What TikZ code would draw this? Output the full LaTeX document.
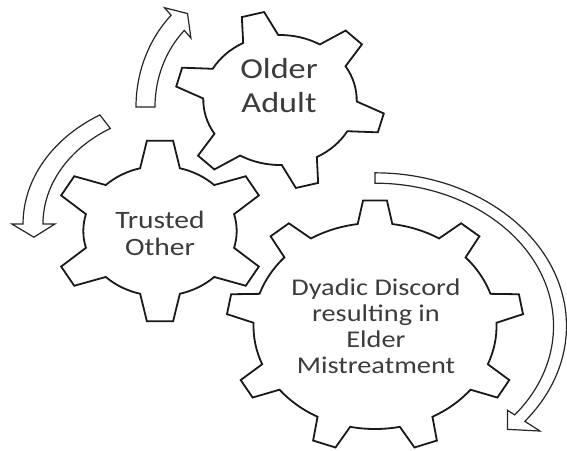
\documentclass[tikz,border=0pt]{standalone}
\usepackage{fontspec}
\setmainfont{Carlito}
\usepackage{graphicx}
\usetikzlibrary{calc}
\definecolor{txt}{HTML}{3C3C3C}
\newcommand{\gearsx}{1.18}
% cx cy R r N phi0 tiphalf basehalf
\newcommand{\drawgear}[8]{%
  \draw[gearline] ({#1+\gearsx*#4*cos(#6-#8)},{#2+#4*sin(#6-#8)})
  \foreach \k in {1,...,#5}{
    -- ({#1+\gearsx*#3*cos(#6+(\k-1)*360/#5-#7)},{#2+#3*sin(#6+(\k-1)*360/#5-#7)})
    -- ({#1+\gearsx*#3*cos(#6+(\k-1)*360/#5+#7)},{#2+#3*sin(#6+(\k-1)*360/#5+#7)})
    -- ({#1+\gearsx*#4*cos(#6+(\k-1)*360/#5+#8)},{#2+#4*sin(#6+(\k-1)*360/#5+#8)})
    arc[start angle={#6+(\k-1)*360/#5+#8}, end angle={#6+\k*360/#5-#8}, x radius={\gearsx*#4}, y radius={#4}]
  } -- cycle;
}
% cx cy a b w ho hi s e ; tip angle in \tipang
\newcommand{\curvedarrow}[9]{%
  \draw[arrowline] ({#1+(1+#5)*#3*cos(#8)},{#2+(1+#5)*#4*sin(#8)})
    arc[start angle=#8, end angle=#9, x radius={(1+#5)*#3}, y radius={(1+#5)*#4}]
    -- ({#1+#6*#3*cos(#9)},{#2+#6*#4*sin(#9)})
    -- ({#1+#3*cos(\tipang)},{#2+#4*sin(\tipang)})
    -- ({#1+#7*#3*cos(#9)},{#2+#7*#4*sin(#9)})
    -- ({#1+(1-#5)*#3*cos(#9)},{#2+(1-#5)*#4*sin(#9)})
    arc[start angle=#9, end angle=#8, x radius={(1-#5)*#3}, y radius={(1-#5)*#4}]
    -- cycle;
}
\begin{document}
\begin{tikzpicture}[x=1pt,y=-1pt,
  gearline/.style={draw=black!90, line width=1.8pt, fill=white, line join=miter},
  arrowline/.style={draw=black!85, line width=1.2pt, fill=white, line join=miter},
  lbl/.style={inner sep=0pt, text=txt}]
\useasboundingbox (0,0) rectangle (567,450);
\fill[white] (0,0) rectangle (567,450);
% arrows
\def\tipang{233}
\curvedarrow{251}{107}{105.5}{117}{0.09}{1.18}{0.82}{180}{226}
\def\tipang{173.7}
\curvedarrow{184}{224}{151}{120}{0.066}{1.14}{0.855}{238.5}{180}
\def\tipang{44.3}
\curvedarrow{375}{326}{185}{148}{0.035}{1.14}{0.915}{-90}{38.5}
% gears
\drawgear{280}{100}{89}{65}{6}{-105}{6.3}{13.7}
\drawgear{160}{231}{91}{65}{6}{-90}{7}{15}
\drawgear{375}{326}{126}{103}{9}{-90}{4.6}{8.2}
% labels
\node[lbl, font=\fontsize{29}{34}\selectfont] (older) at (279,88.2)
  {\scalebox{1.18}[1]{\begin{tabular}{@{}c@{}}Older\\Adult\end{tabular}}};
\node[lbl, font=\fontsize{25}{27}\selectfont] (trusted) at (160,236.1)
  {\scalebox{1.18}[1]{\begin{tabular}{@{}c@{}}Trusted\\Other\end{tabular}}};
\node[lbl, font=\fontsize{24}{26}\selectfont] (dyadic) at (376,328.8)
  {\scalebox{1.18}[1]{\begin{tabular}{@{}c@{}}Dyadic Discord\\resulting in\\Elder\\Mistreatment\end{tabular}}};
\end{tikzpicture}
\end{document}
